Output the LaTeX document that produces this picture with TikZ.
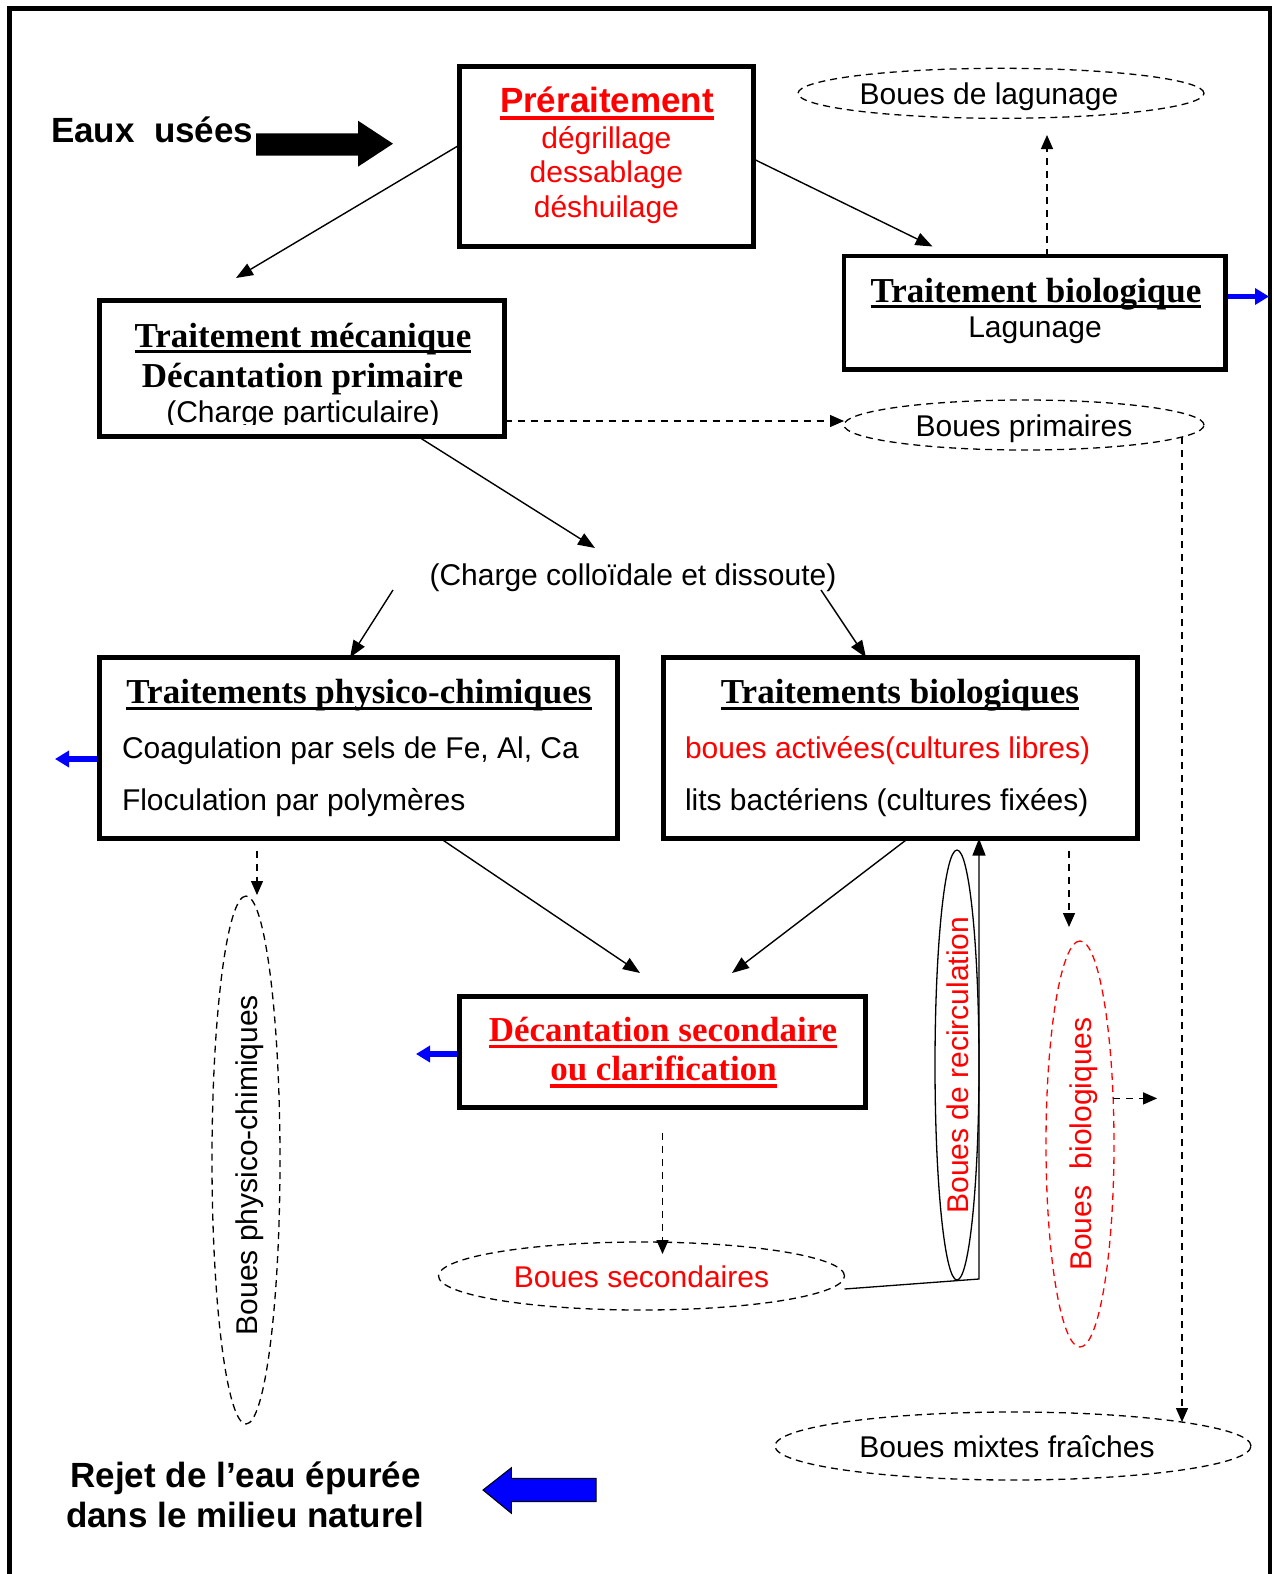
\documentclass[tikz,border=0pt]{standalone}
\usepackage{fontspec}
\setmainfont{Liberation Sans}
\newfontfamily\serifb{Liberation Serif}
\usetikzlibrary{arrows.meta,calc,shapes.geometric}
\newcommand\tsz{\fontsize{30}{36}\selectfont}
\newcommand\hsz{\fontsize{35}{42}\selectfont}
\definecolor{rouge}{RGB}{255,0,0}
\definecolor{bleu}{RGB}{0,0,255}

\begin{document}
\begin{tikzpicture}[x=1pt,y=-1pt,
  box/.style={draw, line width=4.5pt, rectangle, inner sep=0pt, outer sep=0pt},
  tx/.style={inner sep=0pt, outer sep=0pt, font=\tsz},
  hd/.style={inner sep=0pt, outer sep=0pt, font=\hsz\serifb\bfseries},
  arr/.style={line width=1.4pt, -{Triangle[length=17pt,width=13pt]}},
  darr/.style={line width=1.3pt, dash pattern=on 7pt off 6pt, -{Triangle[length=14pt,width=12pt]}},
  blu/.style={bleu, line width=5.5pt, -{Triangle[length=14pt,width=16pt]}},
  sludge/.style={ellipse, draw, line width=1.3pt, dash pattern=on 7pt off 5pt,
    inner sep=0pt, outer sep=0pt, font=\tsz, text height=23pt, text depth=0pt},
  uline/.style={line width=3.5pt}]
\useasboundingbox (0,0) rectangle (1274,1574);
\fill[white] (0,0) rectangle (1274,1574);

% outer frame (open at the bottom)
\draw[line width=4.5pt, line join=miter] (9.5,1574) -- (9.5,8.5) -- (1270,8.5) -- (1270,1574);

% inflow
\node[tx, anchor=base west, font=\hsz\bfseries] (eaux) at (51,142) {Eaux~~usées};
\fill (256,133.3) -- (358,133.3) -- (358,120.7) -- (393,143.7) -- (358,166.7) -- (358,155.7) -- (256,155.7) -- cycle;

% treatment boxes
\node[box, minimum width=294pt, minimum height=180pt] (pre) at (606.5,156.5) {};
\node[box, minimum width=405pt, minimum height=136pt] (mec) at (302,368.5) {};
\node[box, minimum width=381.5pt, minimum height=113.5pt] (bioA) at (1034.75,312.75) {};
\node[box, minimum width=518pt, minimum height=181pt] (phy) at (358.5,748) {};
\node[box, minimum width=474pt, minimum height=181pt] (bio) at (900.5,748) {};
\node[box, minimum width=406pt, minimum height=111pt] (dec) at (662.5,1052) {};

% box texts
\node[tx, anchor=base, font=\hsz\bfseries, text=rouge] (preT) at (607,112.5) {Préraitement};
\draw[rouge, line width=3.8pt] ([yshift=-5.3pt]preT.base west) -- ([yshift=-5.3pt]preT.base east);
\node[tx, anchor=base, text=rouge] (preA) at (606.4,148.5) {dégrillage};
\node[tx, anchor=base, text=rouge] (preB) at (606.4,182) {dessablage};
\node[tx, anchor=base, text=rouge] (preC) at (606.4,217) {déshuilage};

\node[hd, anchor=base] (mecT) at (303,347.7) {Traitement mécanique};
\draw[uline] ([yshift=-4pt]mecT.base west) -- ([yshift=-4pt]mecT.base east);
\node[hd, anchor=base] (mecB) at (302.5,387.5) {Décantation primaire};
\begin{scope}
  \clip (100,395) rectangle (504,424);
  \node[tx, anchor=base] (mecC) at (303,422) {(Charge particulaire)};
\end{scope}

\node[hd, anchor=base] (bioAT) at (1036,302) {Traitement biologique};
\draw[uline] ([yshift=-4.5pt]bioAT.base west) -- ([yshift=-4.5pt]bioAT.base east);
\node[tx, anchor=base] (bioAL) at (1035,337) {Lagunage};

\node[hd, anchor=base] (phyT) at (359,703.3) {Traitements physico-chimiques};
\draw[uline] ([yshift=-5pt]phyT.base west) -- ([yshift=-5pt]phyT.base east);
\node[tx, anchor=base west] (phyA) at (122,758) {Coagulation par sels de Fe, Al, Ca};
\node[tx, anchor=base west] (phyB) at (122,810.5) {Floculation par polymères};

\node[hd, anchor=base] (bioT) at (900,703.3) {Traitements biologiques};
\draw[uline] ([yshift=-5pt]bioT.base west) -- ([yshift=-5pt]bioT.base east);
\node[tx, anchor=base west, text=rouge] (bioL) at (685,758) {boues activées(cultures libres)};
\node[tx, anchor=base west] (bioF) at (685,810.5) {lits bactériens (cultures fixées)};

\node[hd, anchor=base, text=rouge] (decT) at (663,1041) {Décantation secondaire};
\draw[uline, rouge] ([yshift=-5.5pt]decT.base west) -- ([yshift=-5.5pt]decT.base east);
\node[hd, anchor=base, text=rouge] (decB) at (663.5,1080) {ou clarification};
\draw[uline, rouge] ([yshift=-6pt]decB.base west) -- ([yshift=-6pt]decB.base east);

\node[tx, anchor=base] (cc) at (633,585) {(Charge colloïdale et dissoute)};

% sludges
\node[sludge, minimum width=406pt, minimum height=50pt] (lag) at (1001,93.3) {Boues de lagunage\hspace*{24pt}};
\node[sludge, minimum width=360pt, minimum height=50pt] (prim) at (1024,425) {Boues primaires};
\node[sludge, minimum width=528pt, minimum height=68pt, rotate=90] (phyS) at (246,1160) {Boues physico-chimiques\hspace*{10pt}};
\node[sludge, minimum width=406pt, minimum height=68pt, text=rouge] (sec) at (641.5,1276) {Boues secondaires};
\node[sludge, minimum width=406pt, minimum height=68pt, rotate=90, draw=rouge, text=rouge] (bioS) at (1080,1144) {Boues~~biologiques};
\node[sludge, minimum width=476pt, minimum height=68pt] (mix) at (1013,1446) {Boues mixtes fraîches\hspace*{12pt}};
\node[ellipse, draw, line width=1.3pt, inner sep=0pt, outer sep=0pt, font=\tsz,
  text height=23pt, text depth=0pt, text=rouge, minimum width=430pt, minimum height=44pt,
  rotate=90] (rec) at (957,1065) {Boues de recirculation};

% free ends of the connectors
\coordinate (pA) at (236,278);
\coordinate (pB) at (932.5,246.5);
\coordinate (pC) at (1047,135);
\coordinate (pD) at (1269,296.5);
\coordinate (pE) at (595,548);
\coordinate (cL) at (393,590);
\coordinate (cR) at (821,590);
\coordinate (pF) at (640,973);
\coordinate (pG) at (732,973);
\coordinate (pH) at (257,895);
\coordinate (pI) at (55,759);
\coordinate (pJ) at (416,1054);
\coordinate (pK) at (662.5,1254);
\coordinate (rc) at (979,1279);
\coordinate (pL) at (1069,927);

% water line
\draw[arr] ([yshift=11.5pt]pre.west) -- (pA);
\draw[arr] ([yshift=-2.5pt]pre.east) -- (pB);
\draw[arr] ([xshift=116pt]mec.south) -- (pE);
\draw[arr] (cL) -- ([xshift=-8.5pt]phy.north);
\draw[arr] (cR) -- ([xshift=-34.5pt]bio.north);
\draw[arr] ([xshift=82pt]phy.south) -- (pF);
\draw[arr] ([xshift=7.5pt]bio.south) -- (pG);
\draw[arr, line width=1.3pt] ([yshift=-13pt]sec.east) -- (rc) -- ([xshift=78.5pt]bio.south);

% treated water outlets
\draw[blu] ([xshift=2.25pt,yshift=16.25pt]bioA.east) -- (pD);
\draw[blu] ([xshift=-2.25pt,yshift=-11pt]phy.west) -- (pI);
\draw[blu] ([xshift=-2.25pt,yshift=-2pt]dec.west) -- (pJ);

% sludge lines
\draw[darr] ([xshift=12.25pt]bioA.north) -- (pC);
\draw[darr] ([yshift=-52.5pt]mec.east) -- ([yshift=4pt]prim.west);
\draw[darr] ($(prim.center)+(158,12)$) -- ($(mix.center)+(169,-24)$);
\draw[darr] ([xshift=-101.5pt,yshift=-12pt]phy.south) -- (pH);
\draw[darr] ([yshift=-25pt]dec.south) -- (pK);
\draw[darr] ([xshift=168.5pt,yshift=-12pt]bio.south) -- (pL);
\draw[darr] (bioS.-36) -- ++(44,0);

% discharge
\filldraw[fill=bleu, draw=black, line width=1pt] (483,1490) -- (511.4,1467.7) -- (511.4,1478.3) -- (596,1478.3)
  -- (596,1501.7) -- (511.4,1501.7) -- (511.4,1513.3) -- cycle;
\node[tx, anchor=base, font=\hsz\bfseries] (rejA) at (245.5,1487) {Rejet de l’eau épurée};
\node[tx, anchor=base, font=\hsz\bfseries] (rejB) at (245,1527) {dans le milieu naturel};
\end{tikzpicture}
\end{document}
